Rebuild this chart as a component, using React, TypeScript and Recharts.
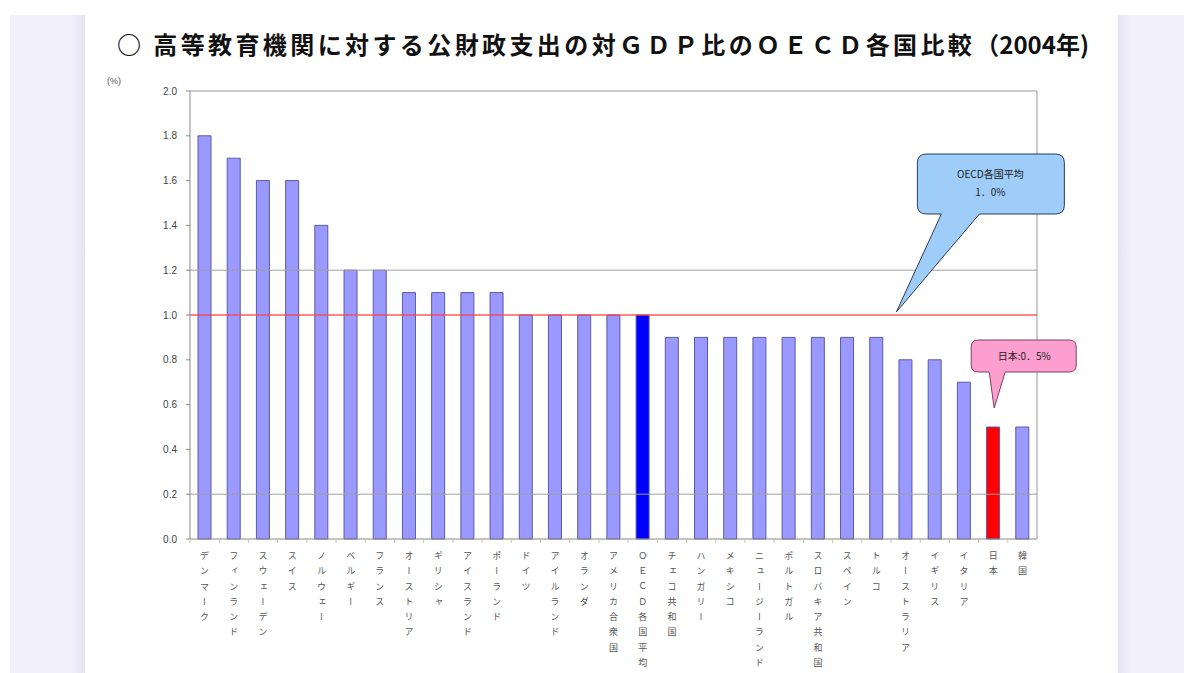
import { BarChart, Bar, Cell, XAxis, YAxis, ReferenceLine, ReferenceDot, CartesianGrid } from 'recharts';

const countries = ['デンマーク', 'フィンランド', 'スウェーデン', 'スイス', 'ノルウェー', 'ベルギー', 'フランス', 'オーストリア', 'ギリシャ', 'アイスランド', 'ポーランド', 'ドイツ', 'アイルランド', 'オランダ', 'アメリカ合衆国', 'ＯＥＣＤ各国平均', 'チェコ共和国', 'ハンガリー', 'メキシコ', 'ニュージーランド', 'ポルトガル', 'スロバキア共和国', 'スペイン', 'トルコ', 'オーストラリア', 'イギリス', 'イタリア', '日本', '韓国'];
const spending = [1.8, 1.7, 1.6, 1.6, 1.4, 1.2, 1.2, 1.1, 1.1, 1.1, 1.1, 1.0, 1.0, 1.0, 1.0, 1.0, 0.9, 0.9, 0.9, 0.9, 0.9, 0.9, 0.9, 0.9, 0.8, 0.8, 0.7, 0.5, 0.5];
const yTicks = [0, 0.2, 0.4, 0.6, 0.8, 1.0, 1.2, 1.4, 1.6, 1.8, 2.0];
const oecdAverage = 1.0;
const japanValue = 0.5;

const data = countries.map((name, i) => ({ name, value: spending[i] }));

const W = 1184;
const H = 673;
const margin = { top: 91, right: 147, bottom: 4, left: 130 };
const yAxisWidth = 60;
const band = (W - margin.left - margin.right - yAxisWidth) / countries.length;
const jp = '"Noto Sans CJK JP", sans-serif';

const barColor = (name: string) => {
  if (name === 'ＯＥＣＤ各国平均') return '#0000ff';
  if (name === '日本') return '#ff0000';
  return '#9999ff';
};

const VerticalTick = (props: any) => {
  const { x, y, payload } = props;
  return <g>
      <line x1={x - band / 2} x2={x - band / 2} y1={y} y2={y + 4} stroke="#c8c8a0" />
      <text x={x} y={y + 12} fontSize={9} fill="#555" textAnchor="start" letterSpacing={6.3} style={{
      writingMode: 'vertical-rl',
      fontFamily: jp
    }}>
        {payload.value}
      </text>
    </g>;
};

// blue callout, tip sits on the average line
const OecdBubble = (props: any) => {
  const tx = props.cx + 20;
  const ty = props.cy - 3;
  const L = tx + 21, R = tx + 168, T = ty - 158, B = ty - 98, r = 9;
  const d = `M${L + r},${T} H${R - r} Q${R},${T} ${R},${T + r} V${B - r} Q${R},${B} ${R - r},${B} H${tx + 83} L${tx},${ty} L${tx + 45},${B} H${L + r} Q${L},${B} ${L},${B - r} V${T + r} Q${L},${T} ${L + r},${T} Z`;
  return <g>
      <path d={d} fill="#9dcdf8" stroke="#2f3a55" strokeWidth={1} />
      <text x={tx + 94} y={ty - 134} fontSize={10} fill="#222" textAnchor="middle" style={{
      fontFamily: jp
    }}>OECD各国平均</text>
      <text x={tx + 94} y={ty - 116} fontSize={10} fill="#222" textAnchor="middle" style={{
      fontFamily: jp
    }}>1．0%</text>
    </g>;
};

// pink callout above Japan's bar
const JapanBubble = (props: any) => {
  const tx = props.cx + 1;
  const ty = props.cy - 19;
  const L = tx - 23, R = tx + 82, T = ty - 68, B = ty - 36, r = 7;
  const d = `M${L + r},${T} H${R - r} Q${R},${T} ${R},${T + r} V${B - r} Q${R},${B} ${R - r},${B} H${tx + 11} L${tx},${ty} L${tx - 5},${B} H${L + r} Q${L},${B} ${L},${B - r} V${T + r} Q${L},${T} ${L + r},${T} Z`;
  return <g>
      <path d={d} fill="#fc9fd0" stroke="#7a4060" strokeWidth={1} />
      <text x={tx + 30} y={ty - 48} fontSize={10} fill="#222" textAnchor="middle" style={{
      fontFamily: jp
    }}>日本:0．5%</text>
    </g>;
};

const App = () => {
  return <div style={{
    position: 'absolute',
    left: 0,
    top: 0,
    width: W,
    height: H,
    background: '#fff',
    overflow: 'hidden'
  }}>
      <div style={{
      position: 'absolute',
      left: 10,
      top: 15,
      width: 75,
      height: H - 15,
      background: 'linear-gradient(to right, #f1f0fb 80%, #e4e3f0)'
    }} />
      <div style={{
      position: 'absolute',
      left: 1118,
      top: 15,
      width: W - 1118,
      height: H - 15,
      background: 'linear-gradient(to right, #e4e3f0, #f1f0fb 20%)'
    }} />
      <div style={{
      position: 'absolute',
      left: 117,
      top: 27,
      fontFamily: jp,
      fontWeight: 'bold',
      fontSize: 24,
      lineHeight: '34px',
      color: '#111',
      whiteSpace: 'nowrap'
    }}>
        <span style={{
        letterSpacing: 3.4
      }}>○ 高等教育機関に対する公財政支出の対ＧＤＰ比のＯＥＣＤ各国比較</span>
        <span>（2004年)</span>
      </div>
      <div style={{
      position: 'absolute',
      left: 107,
      top: 76,
      fontFamily: '"Liberation Sans", sans-serif',
      fontSize: 9,
      color: '#555'
    }}>(%)</div>
      <div style={{
      position: 'absolute',
      left: 0,
      top: 0
    }}>
        <BarChart width={W} height={H} data={data} margin={margin} barCategoryGap={0}>
          <CartesianGrid horizontal={false} vertical stroke="#999" verticalCoordinatesGenerator={({ offset }: any) => [offset.left + offset.width]} />
          <XAxis dataKey="name" interval={0} height={130} tickLine={false} tickSize={0} tickMargin={0} axisLine={{
          stroke: '#888'
        }} tick={<VerticalTick />} />
          <YAxis domain={[0, 2]} ticks={yTicks} width={yAxisWidth} tickSize={4} tickMargin={9} tickFormatter={(v: number) => v.toFixed(1)} tick={{
          fontSize: 10,
          fill: '#444',
          fontFamily: '"Liberation Sans", sans-serif'
        }} axisLine={{
          stroke: '#888'
        }} tickLine={{
          stroke: '#888'
        }} />
          <ReferenceLine y={2} stroke="#999" />
          <ReferenceLine y={1.2} stroke="#a0a0a0" />
          <ReferenceLine y={0.2} stroke="#a0a0a0" />
          <Bar dataKey="value" barSize={13} stroke="#5a5aa6" strokeWidth={1} isAnimationActive={false}>
            {data.map(d => <Cell key={d.name} fill={barColor(d.name)} />)}
          </Bar>
          <ReferenceLine y={oecdAverage} stroke="#ff4040" strokeWidth={1.5} strokeOpacity={0.85} />
          <ReferenceDot x="トルコ" y={oecdAverage} ifOverflow="visible" shape={<OecdBubble />} />
          <ReferenceDot x="日本" y={japanValue} ifOverflow="visible" shape={<JapanBubble />} />
        </BarChart>
      </div>
    </div>;
};

export default App;
